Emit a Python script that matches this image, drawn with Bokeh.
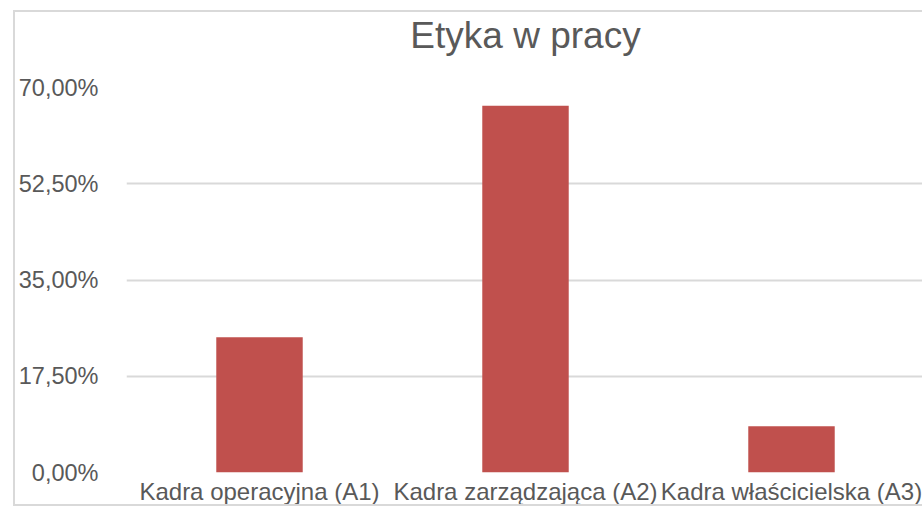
from bokeh.plotting import figure
from bokeh.models import FactorRange, Range1d, FixedTicker, Title, ColumnDataSource
from bokeh.embed import file_html
from bokeh.resources import INLINE

categories = ["Kadra operacyjna (A1)", "Kadra zarządzająca (A2)", "Kadra właścicielska (A3)"]
values = [24.6, 66.7, 8.4]
tick_values = [0, 17.5, 35, 52.5, 70]
tick_labels = ["0,00%", "17,50%", "35,00%", "52,50%", "70,00%"]
title_text = "Etyka w pracy"

FONT = "Liberation Sans"
TEXT_COLOR = "#595959"
GRID_COLOR = "#d9d9d9"
BAR_COLOR = "#c0504d"

source = ColumnDataSource(data=dict(cat=categories, val=values))

p = figure(
    title=None,
    x_range=FactorRange(factors=categories, range_padding=0),
    y_range=Range1d(0, 70),
    width=909, height=496,
    output_backend="svg", toolbar_location=None,
    min_border_left=100, min_border_right=0, min_border_top=73, min_border_bottom=36,
)
p.styles = {
    "margin-left": "13px", "margin-top": "10px",
    "border-left": f"2px solid {GRID_COLOR}",
    "border-top": f"2px solid {GRID_COLOR}",
    "border-bottom": f"2px solid {GRID_COLOR}",
}

p.vbar(x="cat", top="val", bottom=0, width=0.325, source=source,
       fill_color=BAR_COLOR, line_color=None)

# spacer between the plot area and the title
spacer = Title(text=" ", text_font=FONT, text_font_size="26px", standoff=0)
p.add_layout(spacer, "above")
t = Title(text=title_text, align="center", text_font=FONT,
          text_font_size="37px", text_color=TEXT_COLOR, text_font_style="normal",
          standoff=0, offset=0)
p.add_layout(t, "above")

p.outline_line_color = None
p.background_fill_color = "white"
p.border_fill_color = "white"

p.xgrid.grid_line_color = None
p.ygrid.grid_line_color = GRID_COLOR
p.ygrid.grid_line_width = 2
p.ygrid.ticker = FixedTicker(ticks=tick_values)

for ax in (p.xaxis[0], p.yaxis[0]):
    ax.axis_line_color = None
    ax.major_tick_line_color = None
    ax.minor_tick_line_color = None
    ax.major_tick_out = 0
    ax.major_tick_in = 0
    ax.minor_tick_out = 0
    ax.minor_tick_in = 0
    ax.major_label_text_font = FONT
    ax.major_label_text_color = TEXT_COLOR

p.xaxis.major_label_text_font_size = "24px"
p.yaxis.major_label_text_font_size = "23.5px"

p.yaxis.ticker = FixedTicker(ticks=tick_values)
p.yaxis.major_label_overrides = {v: l for v, l in zip(tick_values, tick_labels)}
p.yaxis.major_label_standoff = 28
p.xaxis.major_label_standoff = 5

open("out.html", "w").write(file_html(p, INLINE))
